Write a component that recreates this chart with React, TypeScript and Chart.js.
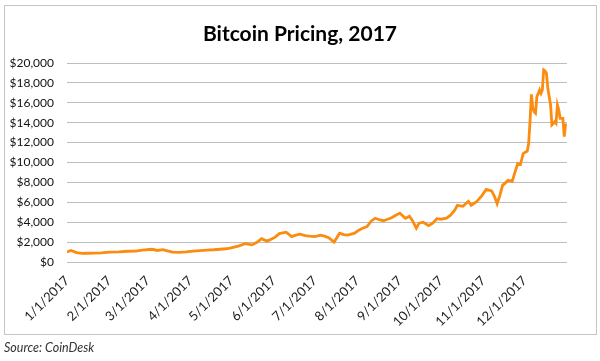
import React, { useEffect, useRef } from "react";
import { Chart, registerables } from "chart.js";

Chart.register(...registerables);

// Day of year (0 = Jan 1, 2017) for each sampled price
const dayOfYear = [
  0, 3, 7, 11, 15, 19, 25, 31, 38, 44, 50, 55, 62, 66, 70, 74, 77, 82, 87, 92,
  97, 102, 107, 112, 116, 119, 122, 125, 130, 135, 139, 142, 146, 149, 152, 155,
  160, 164, 167, 170, 174, 177, 181, 185, 188, 191, 195, 199, 202, 205, 210, 213,
  215, 219, 222, 225, 228, 231, 234, 237, 240, 243, 247, 250, 252, 255, 257, 260,
  264, 267, 270, 273, 277, 280, 283, 285, 289, 293, 295, 299, 303, 306, 310, 312,
  314, 316, 318, 322, 325, 327, 329, 331, 333, 336, 337, 338, 339, 340, 341, 342,
  343, 345, 346, 347, 348, 349, 350, 351, 353, 354, 355, 356, 357, 358, 359, 360,
  362, 363, 364,
];

// Bitcoin price (USD)
const priceUSD = [
  1000, 1150, 950, 860, 880, 900, 920, 1000, 1020, 1080, 1100, 1190, 1280, 1160,
  1250, 1100, 1000, 960, 1020, 1100, 1150, 1200, 1230, 1280, 1330, 1400, 1500,
  1600, 1850, 1720, 2000, 2350, 2100, 2280, 2500, 2850, 3000, 2550, 2700, 2800,
  2650, 2600, 2550, 2700, 2600, 2450, 2000, 2900, 2750, 2700, 2900, 3200, 3350,
  3550, 4100, 4400, 4250, 4150, 4300, 4450, 4700, 4900, 4400, 4600, 4200, 3400,
  3900, 4000, 3650, 3900, 4350, 4300, 4400, 4700, 5200, 5700, 5600, 6100, 5700,
  6050, 6700, 7300, 7150, 6600, 5850, 6700, 7700, 8200, 8100, 9000, 9900, 9800,
  10900, 11150, 11900, 14100, 16850, 15500, 15100, 14950, 16600, 17290, 16950,
  17300, 19300, 19200, 18960, 17460, 15780, 13770, 13900, 14100, 13940, 15780,
  15280, 14440, 14440, 12600, 13940,
];

const monthTickDays = [0, 31, 59, 90, 120, 151, 181, 212, 243, 273, 304, 334];
const monthTickLabels = [
  "1/1/2017", "2/1/2017", "3/1/2017", "4/1/2017", "5/1/2017", "6/1/2017",
  "7/1/2017", "8/1/2017", "9/1/2017", "10/1/2017", "11/1/2017", "12/1/2017",
];

const chartTitle = "Bitcoin Pricing, 2017";
const sourceNote = "Source: CoinDesk";

export default function App() {
  const canvasRef = useRef<HTMLCanvasElement | null>(null);

  useEffect(() => {
    document.body.style.margin = "0";
    const canvas = canvasRef.current;
    if (!canvas) return;
    const points = dayOfYear.map((d, i) => ({ x: d, y: priceUSD[i] }));
    const chart = new Chart(canvas, {
      type: "line",
      data: {
        datasets: [
          {
            data: points,
            borderColor: "#fb8c10",
            borderWidth: 2.8,
            pointRadius: 0,
            tension: 0,
            fill: false,
          },
        ],
      },
      options: {
        responsive: false,
        animation: false,
        devicePixelRatio: 1,
        layout: { padding: { left: 0, right: 33, top: 63, bottom: 0 } },
        plugins: {
          legend: { display: false },
          tooltip: { enabled: false },
          title: { display: false },
        },
        scales: {
          x: {
            type: "linear",
            min: 0,
            max: 365,
            grid: { display: false, drawTicks: false },
            border: { display: false },
            afterBuildTicks: (scale: any) => {
              scale.ticks = monthTickDays.map((v) => ({ value: v }));
            },
            afterFit: (scale: any) => {
              scale.height = 99;
            },
            ticks: {
              autoSkip: false,
              minRotation: 45,
              maxRotation: 45,
              padding: 11,
              color: "#222",
              font: { family: "Lato", size: 13 },
              callback: (_v: any, i: number) => monthTickLabels[i],
            },
          },
          y: {
            min: 0,
            max: 20000,
            grid: { color: "#bdbdbd", lineWidth: 1, drawTicks: false },
            border: { display: false },
            afterFit: (scale: any) => {
              scale.width = 67;
            },
            ticks: {
              stepSize: 2000,
              padding: 13,
              color: "#111",
              font: { family: "Lato", size: 12 },
              callback: (v: any) => "$" + Number(v).toLocaleString("en-US"),
            },
          },
        },
      },
    });
    return () => chart.destroy();
  }, []);

  return (
    <div style={{ position: "relative", width: 600, height: 361, background: "#fff" }}>
      <div
        style={{
          position: "absolute",
          left: 4,
          top: 5,
          width: 591,
          height: 328,
          border: "1px solid #c4c4c4",
          boxSizing: "content-box",
        }}
      />
      <canvas
        ref={canvasRef}
        width={600}
        height={361}
        style={{ position: "absolute", left: 0, top: 0 }}
      />
      <div
        style={{
          position: "absolute",
          left: 0,
          width: 600,
          top: 19,
          textAlign: "center",
          fontFamily: "Lato",
          fontWeight: "bold",
          fontSize: 21,
          lineHeight: "28px",
          color: "#000",
          whiteSpace: "nowrap",
        }}
      >
        {chartTitle}
      </div>
      <div
        style={{
          position: "absolute",
          left: 4,
          top: 340,
          fontFamily: "Lato",
          fontStyle: "italic",
          fontSize: 12.5,
          color: "#333",
          whiteSpace: "nowrap",
        }}
      >
        {sourceNote}
      </div>
    </div>
  );
}
